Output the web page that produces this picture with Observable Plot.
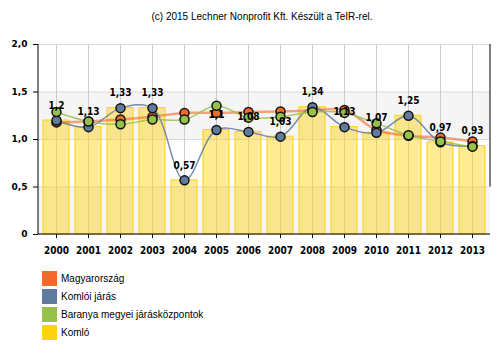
<!DOCTYPE html>
<html>
<head>
<meta charset="utf-8">
<script src="https://cdn.jsdelivr.net/npm/d3@7"></script>
<script src="https://cdn.jsdelivr.net/npm/@observablehq/plot@0.6"></script>
<style>
  html, body { margin: 0; padding: 0; background: #fff; }
  #wrap { position: relative; width: 500px; height: 354px; overflow: hidden; }
  #title { position: absolute; top: 11px; left: 0; width: 524px; text-align: center;
           font: 10px "Liberation Sans", Arial, sans-serif; color: #000; }
  #chart { position: absolute; top: 0; left: 0; }
  #legend { position: absolute; top: 271px; left: 42px; font: 10px "Liberation Sans", Arial, sans-serif; color: #000; }
  .row { height: 18px; display: flex; align-items: flex-start; }
  .sw { width: 15px; height: 15px; margin-right: 4px; }
  .lab { line-height: 15px; }
</style>
</head>
<body>
<div id="wrap">
  <div id="chart"></div>
  <div id="title">(c) 2015 Lechner Nonprofit Kft. Készült a TeIR-rel.</div>
  <div id="legend"></div>
</div>
<script>
const years = [2000, 2001, 2002, 2003, 2004, 2005, 2006, 2007, 2008, 2009, 2010, 2011, 2012, 2013];
const komlo = [1.2, 1.13, 1.33, 1.33, 0.57, 1.1, 1.08, 1.03, 1.34, 1.13, 1.07, 1.25, 0.97, 0.93];
const komloiJaras = [1.2, 1.13, 1.33, 1.33, 0.57, 1.1, 1.08, 1.03, 1.34, 1.13, 1.07, 1.25, 0.97, 0.93];
const magyarorszag = [1.18, 1.19, 1.21, 1.24, 1.28, 1.28, 1.29, 1.295, 1.305, 1.31, 1.1, 1.04, 1.02, 0.98];
const baranya = [1.29, 1.19, 1.16, 1.21, 1.21, 1.355, 1.23, 1.24, 1.29, 1.28, 1.17, 1.045, 0.98, 0.925];
const yTicks = [0, 0.5, 1, 1.5, 2];
const seriesNames = ["Magyarország", "Komlói járás", "Baranya megyei járásközpontok", "Komló"];
const seriesColors = ["#f36a29", "#5f7b9e", "#97c14a", "#fdd20f"];

const rows = years.map((year, i) => ({
  year, komlo: komlo[i], jaras: komloiJaras[i], magy: magyarorszag[i], baranya: baranya[i]
}));
const bands = [];
for (let i = 0; i + 1 < yTicks.length; i += 2) bands.push({ y1: yTicks[i], y2: yTicks[i + 1] });

const fmt = v => String(v).replace(".", ",");
const yFmt = v => v === 0 ? "0" : v.toFixed(1).replace(".", ",");

const plot = Plot.plot({
  width: 500,
  height: 262,
  marginTop: 44,
  marginBottom: 28,
  marginLeft: 38,
  marginRight: 10,
  style: { fontFamily: "'DejaVu Sans', sans-serif", fontSize: "10px", color: "#000", background: "transparent" },
  x: { type: "band", domain: years, paddingInner: 0.2, paddingOuter: 0.07, label: null },
  y: { domain: [0, 2], label: null },
  marks: [
    Plot.rectY(bands, { y1: "y1", y2: "y2", fill: "#f5f5f5" }),
    Plot.ruleY(yTicks, { stroke: "#dcdcdc" }),
    Plot.ruleX(years, { x: d => d, stroke: "#cccccc" }),
    Plot.barY(rows, { x: "year", y: "komlo", fill: seriesColors[3], fillOpacity: 0.45, stroke: seriesColors[3], strokeWidth: 1 }),
    Plot.line(rows, { x: "year", y: "magy", stroke: seriesColors[0], strokeWidth: 2.5, strokeOpacity: 0.6, curve: "catmull-rom" }),
    Plot.line(rows, { x: "year", y: "jaras", stroke: seriesColors[1], strokeWidth: 1.5, strokeOpacity: 0.85, curve: "catmull-rom" }),
    Plot.line(rows, { x: "year", y: "baranya", stroke: seriesColors[2], strokeWidth: 1.5, strokeOpacity: 0.85, curve: "catmull-rom" }),
    Plot.dot(rows, { x: "year", y: "magy", r: 4.5, fill: seriesColors[0], stroke: "#111", strokeWidth: 1.5 }),
    Plot.dot(rows, { x: "year", y: "jaras", r: 4.5, fill: seriesColors[1], stroke: "#111", strokeWidth: 1.5 }),
    Plot.dot(rows, { x: "year", y: "baranya", r: 4.5, fill: seriesColors[2], stroke: "#111", strokeWidth: 1.5 }),
    Plot.text(rows, { x: "year", y: "komlo", text: d => fmt(d.komlo), dy: -15, fill: "#000",
      fontSize: 10, fontWeight: "bold", fontFamily: "'DejaVu Sans Condensed', 'DejaVu Sans', sans-serif" }),
    Plot.axisY({ ticks: yTicks, tickFormat: yFmt, tickSize: 5, tickPadding: 6, fontSize: 9, fontWeight: "bold",
      fontFamily: "'DejaVu Sans', sans-serif", stroke: "#000" }),
    Plot.axisX({ tickFormat: d => String(d), tickSize: 4, tickPadding: 8, fontSize: 10, fontWeight: "bold",
      fontFamily: "'Liberation Sans Narrow', 'DejaVu Sans Condensed', sans-serif", stroke: "#000" })
  ]
});

// axis lines drawn using the plot's own scales
const xs = plot.scale("x"), ys = plot.scale("y");
const svg = d3.select(plot);
const xr = xs.range, y0 = ys.apply(0), y2 = ys.apply(2), yHalf = ys.apply(0.5);
svg.append("line").attr("x1", xr[0]).attr("x2", xr[1]).attr("y1", y0).attr("y2", y0).attr("stroke", "#000");
svg.append("line").attr("x1", xr[0]).attr("x2", xr[0]).attr("y1", y0).attr("y2", y2).attr("stroke", "#000");
svg.append("line").attr("x1", xr[1]).attr("x2", xr[1]).attr("y1", yHalf).attr("y2", y2).attr("stroke", "#000");

document.getElementById("chart").appendChild(plot);

const legend = document.getElementById("legend");
seriesNames.forEach((name, i) => {
  const row = document.createElement("div");
  row.className = "row";
  row.innerHTML = `<div class="sw" style="background:${seriesColors[i]}"></div><div class="lab">${name}</div>`;
  legend.appendChild(row);
});
</script>
</body>
</html>
